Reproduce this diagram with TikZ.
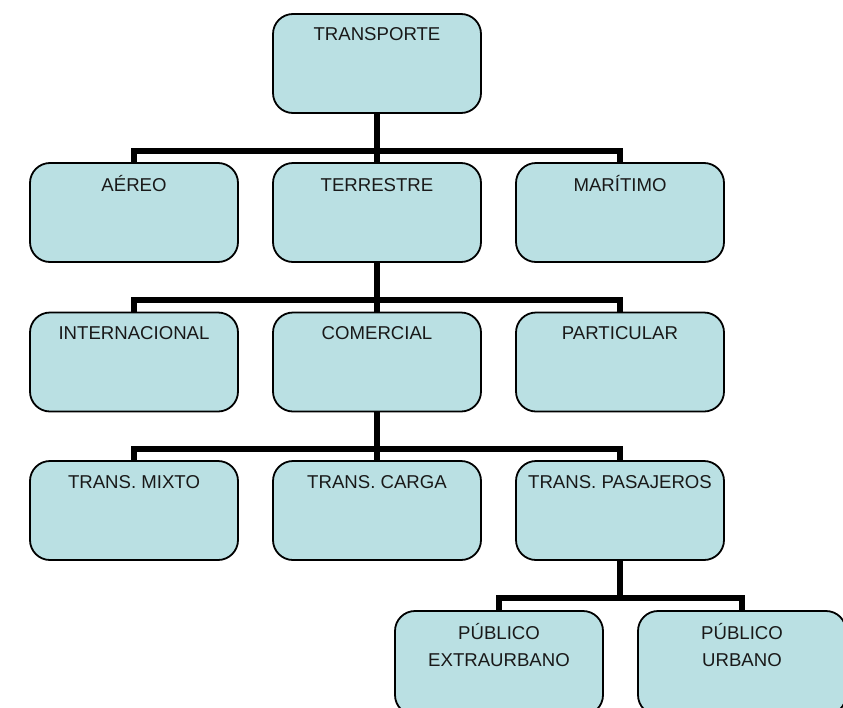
\documentclass[tikz,border=0pt]{standalone}
\usepackage{fontspec}
\setmainfont{Liberation Sans}
\definecolor{boxfill}{RGB}{186,224,227}
\begin{document}
\begin{tikzpicture}[x=1pt,y=1pt,
  box/.style={draw=black, line width=1.8pt, fill=boxfill, rounded corners=20pt,
    minimum width=208pt, minimum height=99pt, inner sep=0pt},
  lbl/.style={anchor=base, inner sep=0pt, align=center, font=\fontsize{18.6}{27}\selectfont, text=black!90},
  conn/.style={line width=6pt, draw=black, line join=miter}
]
\useasboundingbox (0,0) rectangle (843,-707);
% boxes
\node[box] (transporte) at (377,-63.5) {};
\node[box] (aereo) at (134,-212.5) {};
\node[box] (terrestre) at (377,-212.5) {};
\node[box] (maritimo) at (620,-212.5) {};
\node[box] (internacional) at (134,-362) {};
\node[box] (comercial) at (377,-362) {};
\node[box] (particular) at (620,-362) {};
\node[box] (mixto) at (134,-510.5) {};
\node[box] (carga) at (377,-510.5) {};
\node[box] (pasajeros) at (620,-510.5) {};
\node[box, minimum height=104pt] (extra) at (499,-663) {};
\node[box, minimum height=104pt] (urbano) at (742,-663) {};
% labels
\node[lbl] (ltransporte) at ([yshift=-27pt]transporte.north) {TRANSPORTE};
\node[lbl] (laereo) at ([yshift=-29pt]aereo.north) {AÉREO};
\node[lbl] (lterrestre) at ([yshift=-29pt]terrestre.north) {TERRESTRE};
\node[lbl] (lmaritimo) at ([yshift=-29pt]maritimo.north) {MARÍTIMO};
\node[lbl] (linternacional) at ([yshift=-28pt]internacional.north) {INTERNACIONAL};
\node[lbl] (lcomercial) at ([yshift=-28pt]comercial.north) {COMERCIAL};
\node[lbl] (lparticular) at ([yshift=-28pt]particular.north) {PARTICULAR};
\node[lbl] (lmixto) at ([yshift=-28pt]mixto.north) {TRANS. MIXTO};
\node[lbl] (lcarga) at ([yshift=-28pt]carga.north) {TRANS. CARGA};
\node[lbl] (lpasajeros) at ([yshift=-28pt]pasajeros.north) {TRANS. PASAJEROS};
\node[lbl, anchor=north] (lextra) at ([yshift=-13pt]extra.north) {PÚBLICO\\EXTRAURBANO};
\node[lbl, anchor=north] (lurbano) at ([yshift=-13pt]urbano.north) {PÚBLICO\\URBANO};
% connectors
\foreach \c in {aereo,terrestre,maritimo}
  \draw[conn] (transporte.south) -- ++(0,-37) -| (\c.north);
\foreach \c in {internacional,comercial,particular}
  \draw[conn] (terrestre.south) -- ++(0,-37.5) -| (\c.north);
\foreach \c in {mixto,carga,pasajeros}
  \draw[conn] (comercial.south) -- ++(0,-37) -| (\c.north);
\foreach \c in {extra,urbano}
  \draw[conn] (pasajeros.south) -- ++(0,-37.5) -| (\c.north);
\end{tikzpicture}
\end{document}
